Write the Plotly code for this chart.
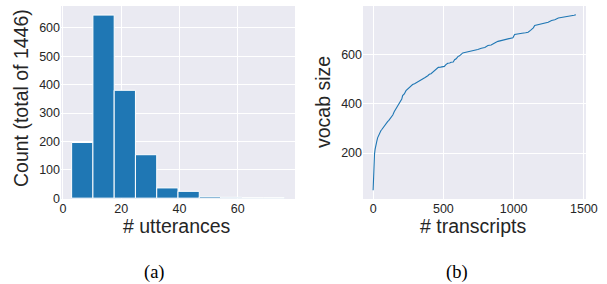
import plotly.graph_objects as go

# Histogram (a): bin edges and counts
bin_edges = [3.0, 10.3, 17.6, 24.9, 32.2, 39.5, 46.8, 54.1, 61.4, 68.7, 76.0]
counts = [196, 645, 380, 153, 36, 24, 5, 3, 2, 2]

# Vocabulary growth curve (b)
transcripts = [0, 2, 5, 8, 10, 14, 18, 22, 26, 32, 40, 48, 55, 62, 70, 80, 90, 103, 112, 120,
               130, 140, 150, 160, 170, 178, 186, 196, 204, 210, 222, 234, 245, 258, 269, 281,
               295, 310, 325, 341, 355, 370, 389, 400, 412, 424, 440, 452, 464, 480, 495, 507,
               518, 531, 545, 555, 570, 580, 591, 603, 615, 630, 638, 660, 690, 721, 745, 770,
               795, 817, 840, 865, 888, 910, 935, 960, 984, 995, 1007, 1030, 1060, 1085, 1103,
               1120, 1140, 1150, 1175, 1200, 1225, 1246, 1270, 1293, 1318, 1341, 1365, 1390,
               1410, 1430, 1443]
vocab = [49, 90, 128, 170, 196, 215, 232, 243, 248, 262, 275, 283, 291, 296, 303, 310, 318, 328,
         333, 339, 350, 355, 368, 378, 386, 392, 405, 413, 420, 434, 441, 454, 460, 465, 471,
         479, 482, 487, 490, 495, 503, 508, 515, 521, 523, 529, 538, 545, 549, 550, 551, 553,
         560, 566, 567, 570, 571, 580, 584, 593, 596, 603, 608, 611, 614, 618, 622, 627, 630,
         638, 640, 648, 655, 658, 662, 666, 668, 670, 683, 684, 688, 690, 692, 700, 710, 720,
         723, 728, 731, 733, 740, 743, 750, 753, 755, 758, 759, 761, 763]

centers = [(bin_edges[i] + bin_edges[i + 1]) / 2 for i in range(len(counts))]
widths = [bin_edges[i + 1] - bin_edges[i] for i in range(len(counts))]

W, H = 607, 284
BG = "#EAEAF2"
TXT = "#262626"
FONT = "Liberation Sans, Arial, sans-serif"
SERIF = "Liberation Serif, Times New Roman, serif"


def fx(x):
    return x / W


def fy(y):
    return 1 - y / H


fig = go.Figure()
fig.add_trace(go.Bar(x=centers, y=counts, width=widths,
                     marker=dict(color="#1f77b4", line=dict(color="white", width=1)),
                     xaxis="x", yaxis="y", showlegend=False))
fig.add_trace(go.Scatter(x=transcripts, y=vocab, mode="lines",
                         line=dict(color="#1f77b4", width=1.1),
                         xaxis="x2", yaxis="y2", showlegend=False))

axis_common = dict(showgrid=True, gridcolor="white", gridwidth=1, zeroline=False, showline=False,
                   ticks="", automargin=False, tickfont=dict(size=12.5, color=TXT, family=FONT))

fig.update_layout(
    width=W, height=H,
    margin=dict(l=0, r=0, t=0, b=0),
    paper_bgcolor="white", plot_bgcolor=BG,
    font=dict(family=FONT, color=TXT),
    xaxis=dict(domain=[fx(61), fx(295)], range=[-0.65, 79.65], tickvals=[0, 20, 40, 60],
               anchor="y", **axis_common),
    yaxis=dict(domain=[fy(199), fy(6)], range=[-3, 677],
               tickvals=[0, 100, 200, 300, 400, 500, 600], anchor="x", **axis_common),
    xaxis2=dict(domain=[fx(363), fx(586)], range=[-72, 1515], tickvals=[0, 500, 1000, 1500],
                anchor="y2", **axis_common),
    yaxis2=dict(domain=[fy(199), fy(6)], range=[13, 799], tickvals=[200, 400, 600],
                anchor="x2", **axis_common),
)

labels = [
    ("# utterances", 177, 226, 0, 19.5, FONT, TXT),
    ("# transcripts", 473, 226, 0, 19.5, FONT, TXT),
    ("Count (total of 1446)", 21, 98, -90, 19.5, FONT, TXT),
    ("vocab size", 323, 102, -90, 19.5, FONT, TXT),
    ("(a)", 154, 272, 0, 18.5, SERIF, "black"),
    ("(b)", 457, 272, 0, 18.5, SERIF, "black"),
]
for text, x, y, ang, size, fam, col in labels:
    fig.add_annotation(text=text, x=fx(x), y=fy(y), xref="paper", yref="paper", showarrow=False,
                       textangle=ang, xanchor="center", yanchor="middle",
                       font=dict(family=fam, size=size, color=col))

fig.write_html("out.html", config={"displayModeBar": False},
               post_script="document.body.style.margin='0';document.body.style.overflow='hidden';")
